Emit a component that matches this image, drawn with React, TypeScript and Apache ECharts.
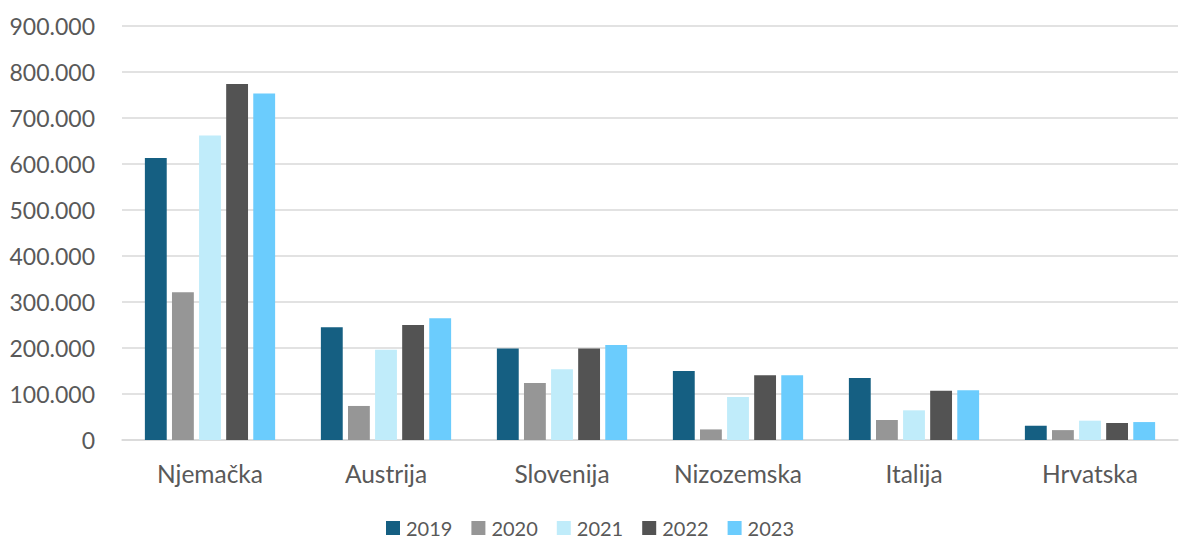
import React, { useEffect, useRef } from "react";
import * as echarts from "echarts";

const categories = ["Njemačka", "Austrija", "Slovenija", "Nizozemska", "Italija", "Hrvatska"];
const years = ["2019", "2020", "2021", "2022", "2023"];
const v2019 = [613000, 245000, 199000, 150000, 135000, 31000];
const v2020 = [321000, 74000, 124000, 23000, 43500, 21500];
const v2021 = [662000, 196000, 154000, 93500, 64500, 42000];
const v2022 = [774000, 250000, 199000, 141000, 107000, 37000];
const v2023 = [753000, 264500, 206500, 141000, 108000, 39000];
const colors = ["#155f82", "#969696", "#c0ecfa", "#535353", "#6bccfd"];

const fmt = (v: number) => String(Math.round(v)).replace(/\B(?=(\d{3})+(?!\d))/g, ".");

export default function App() {
  const ref = useRef<HTMLDivElement>(null);
  useEffect(() => {
    document.body.style.margin = "0";
    const chart = echarts.init(ref.current!, null, { renderer: "svg" });
    const all = [v2019, v2020, v2021, v2022, v2023];
    const font = "Lato";
    chart.setOption({
      animation: false,
      textStyle: { fontFamily: font },
      grid: { left: 122, right: 2, top: 26, bottom: 102, containLabel: false },
      legend: {
        top: 512,
        left: "center",
        padding: [5, 5, 0, 5],
        itemWidth: 14,
        itemHeight: 14,
        itemGap: 19,
        icon: "rect",
        textStyle: { fontFamily: font, fontSize: 20, lineHeight: 22, color: "#595959", padding: [0, 0, 0, 1] },
        data: years,
      },
      xAxis: {
        type: "category",
        data: categories,
        axisLine: { lineStyle: { color: "#d9d9d9", width: 1.5 } },
        axisTick: { show: false },
        axisLabel: { fontFamily: font, fontSize: 24.5, color: "#595959", margin: 21 },
      },
      yAxis: {
        type: "value",
        min: 0,
        max: 900000,
        interval: 100000,
        axisLine: { show: false },
        axisTick: { show: false },
        splitLine: { lineStyle: { color: "#d9d9d9", width: 1.5 } },
        axisLabel: { fontFamily: font, fontSize: 23, color: "#595959", margin: 27, formatter: fmt },
      },
      series: years.map((y, i) => ({
        name: y,
        type: "bar",
        data: all[i],
        barGap: "24%",
        barCategoryGap: "26%",
        itemStyle: { color: colors[i] },
      })),
    });
    return () => chart.dispose();
  }, []);
  return <div ref={ref} style={{ width: 1180, height: 542 }} />;
}
